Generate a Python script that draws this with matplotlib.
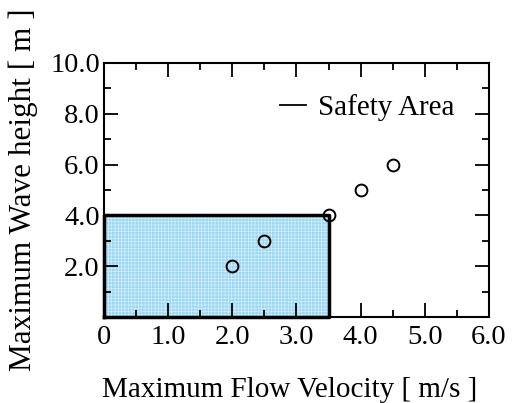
import matplotlib
matplotlib.use("Agg")
import matplotlib.pyplot as plt
from matplotlib.ticker import MultipleLocator, FixedLocator
from matplotlib.lines import Line2D

plt.rcParams['font.family'] = ['Liberation Serif', 'DejaVu Serif']
plt.rcParams['hatch.linewidth'] = 0.5

# data
flow_velocity = [2.0, 2.5, 3.5, 4.0, 4.5]
wave_height = [2.0, 3.0, 4.0, 5.0, 6.0]
safety_velocity = 3.5
safety_height = 4.0
x_ticks = [0, 1.0, 2.0, 3.0, 4.0, 5.0, 6.0]
x_ticklabels = ['0', '1.0', '2.0', '3.0', '4.0', '5.0', '6.0']
y_ticks = [2.0, 4.0, 6.0, 8.0, 10.0]
y_ticklabels = ['2.0', '4.0', '6.0', '8.0', '10.0']

fig = plt.figure(figsize=(5.13, 4.03), dpi=100)
ax = fig.add_axes([0.2027, 0.2134, 0.7505, 0.6303])

ax.fill_between([0, safety_velocity], 0, safety_height, facecolor='#9ed8f2',
                edgecolor='#d2eefa', hatch='+++++', linewidth=0, zorder=1)
ax.plot([0, 0, safety_velocity, safety_velocity, 0],
        [0, safety_height, safety_height, 0, 0],
        color='black', linewidth=2.5, zorder=2, solid_capstyle='projecting',
        clip_on=False)

ax.plot(flow_velocity, wave_height, linestyle='none', marker='o', markersize=8.5,
        markerfacecolor='none', markeredgecolor='black', markeredgewidth=1.4, zorder=5,
        clip_on=False)

ax.set_xlim(0, 6.0)
ax.set_ylim(0, 10.0)
ax.xaxis.set_major_locator(FixedLocator(x_ticks))
ax.set_xticklabels(x_ticklabels)
ax.yaxis.set_major_locator(FixedLocator(y_ticks))
ax.set_yticklabels(y_ticklabels)
ax.xaxis.set_minor_locator(MultipleLocator(0.5))
ax.yaxis.set_minor_locator(MultipleLocator(1.0))
ax.tick_params(which='both', direction='in', top=True, right=True, labelsize=20.5,
               width=1.3)
ax.tick_params(axis='x', which='major', pad=6)
ax.tick_params(axis='y', which='major', pad=3)
ax.tick_params(which='major', length=10)
ax.tick_params(which='minor', length=5)
for s in ax.spines.values():
    s.set_linewidth(1.5)

ax.set_xlabel('Maximum Flow Velocity [ m/s ]', fontsize=21, labelpad=17)
ax.xaxis.set_label_coords(0.483, -0.235)
ax.set_ylabel('Maximum Wave height [ m ]', fontsize=22.5, labelpad=9)

handle = Line2D([], [], color='black', linewidth=1.3)
leg = ax.legend([handle], ['Safety Area'], loc='center left', frameon=False,
                fontsize=21, handlelength=0.9, handletextpad=0.4,
                bbox_to_anchor=(0.457, 0.823), borderaxespad=0, borderpad=0)

fig.savefig('out.png', dpi=100)
